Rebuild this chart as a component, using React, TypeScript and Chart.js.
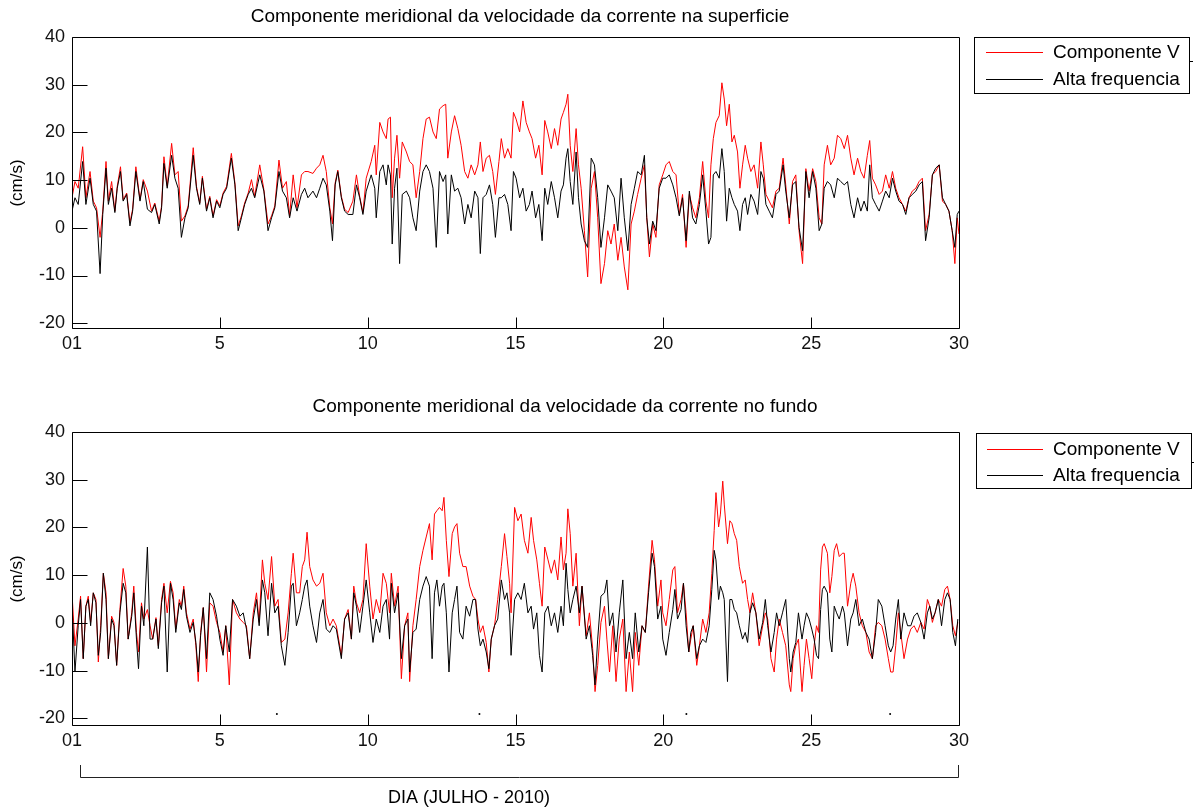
import React, { useEffect, useRef } from "react";
import { Chart, registerables } from "chart.js";

Chart.register(...registerables);

const FONT = '"Liberation Sans", Arial, Helvetica, sans-serif';

// ---------- x / y axes ----------
const xTicks = [0, 5, 10, 15, 20, 25, 30];
const xTickLabels = ["01", "5", "10", "15", "20", "25", "30"];
const yTicks = [-20, -10, 0, 10, 20, 30, 40];
const yAxisLabel = "(cm/s)";
const xAxisLabel = "DIA (JULHO - 2010)";
const legendLabels = ["Componente V", "Alta frequencia"];
const topTitle = "Componente meridional da velocidade da corrente na superficie";
const bottomTitle = "Componente meridional da velocidade da corrente no fundo";

// ---------- top panel (surface) ----------
const topDays = [
  0.00, 0.10, 0.21, 0.36, 0.47, 0.61, 0.72, 0.83, 0.95, 1.04,
  1.15, 1.23, 1.34, 1.45, 1.53, 1.64, 1.73, 1.85, 1.96, 2.05,
  2.16, 2.30, 2.41, 2.55, 2.69, 2.80, 2.95, 3.03, 3.11, 3.22,
  3.37, 3.48, 3.59, 3.70, 3.82, 3.93, 4.10, 4.21, 4.32, 4.41,
  4.55, 4.66, 4.77, 4.89, 5.00, 5.11, 5.23, 5.39, 5.51, 5.62,
  5.73, 5.84, 5.96, 6.07, 6.18, 6.35, 6.49, 6.63, 6.75, 6.86,
  7.00, 7.12, 7.25, 7.36, 7.48, 7.61, 7.76, 7.87, 7.98, 8.15,
  8.27, 8.38, 8.49, 8.60, 8.72, 8.81, 8.90, 8.99, 9.11, 9.22,
  9.34, 9.50, 9.62, 9.73, 9.84, 9.95,
  10.12, 10.24, 10.29, 10.41, 10.52, 10.63, 10.69, 10.77, 10.83, 10.91,
  10.99, 11.08, 11.17, 11.31, 11.42, 11.53, 11.64, 11.76, 11.87, 11.98,
  12.09, 12.21, 12.32, 12.43, 12.55, 12.64, 12.71, 12.83, 12.94, 13.05,
  13.16, 13.28, 13.39, 13.50, 13.62, 13.73, 13.81, 13.90, 14.01, 14.12,
  14.23, 14.32, 14.44, 14.52, 14.63, 14.74, 14.85, 14.93, 15.02, 15.14,
  15.25, 15.36, 15.47, 15.56, 15.68, 15.79, 15.90, 15.99, 16.09, 16.21,
  16.32, 16.43, 16.54, 16.62, 16.71, 16.77, 16.85, 16.94, 17.05, 17.13,
  17.22, 17.33, 17.44, 17.56, 17.67, 17.78, 17.89, 18.01, 18.12, 18.23,
  18.34, 18.46, 18.57, 18.68, 18.80, 18.91, 19.02, 19.13, 19.25, 19.36,
  19.44, 19.53, 19.64, 19.75, 19.86, 19.98,
  20.09, 20.20, 20.32, 20.43, 20.54, 20.65, 20.77, 20.88, 20.99, 21.10,
  21.22, 21.33, 21.44, 21.53, 21.61, 21.69, 21.78, 21.89, 21.98, 22.06,
  22.14, 22.23, 22.32, 22.40, 22.51, 22.59, 22.68, 22.77, 22.85, 22.96,
  23.07, 23.19, 23.30, 23.38, 23.47, 23.58, 23.69, 23.81, 23.92, 24.05,
  24.14, 24.26, 24.37, 24.48, 24.59, 24.71, 24.82, 24.93, 25.05, 25.16,
  25.27, 25.36, 25.44, 25.55, 25.66, 25.78, 25.89, 26.00, 26.12, 26.23,
  26.34, 26.45, 26.57, 26.68, 26.79, 26.90, 26.98, 27.07, 27.18, 27.30,
  27.41, 27.52, 27.64, 27.75, 27.86, 27.97, 28.09, 28.20, 28.31, 28.42,
  28.54, 28.65, 28.76, 28.87, 28.99, 29.10, 29.21, 29.33, 29.44, 29.55,
  29.66, 29.77, 29.86, 29.94, 30.00,
];

const topV = [
  6.3, 9.7, 8.3, 17.0, 6.3, 11.8, 5.6, 4.2, -2.0, 3.5,
  13.9, 5.6, 9.7, 3.5, 8.7, 12.8, 5.9, 7.3, 1.1, 3.9,
  12.8, 5.9, 10.1, 7.7, 3.5, 5.2, 1.4, 4.6, 14.9, 8.7,
  17.7, 11.1, 11.8, 1.4, 2.5, 4.6, 16.8, 8.7, 5.2, 10.8,
  3.9, 6.6, 2.5, 5.9, 4.6, 7.3, 8.7, 15.6, 9.4, 0.4,
  2.5, 5.2, 7.3, 10.1, 6.6, 13.2, 8.0, 0.8, 2.5, 4.6,
  14.2, 8.3, 9.7, 2.5, 11.1, 4.2, 11.1, 11.8, 11.8, 11.4,
  12.5, 13.2, 15.2, 11.8, 4.2, 0.8, 9.4, 12.1, 6.6, 3.9,
  3.2, 5.6, 11.1, 6.6, 3.2, 10.4,
  13.9, 17.3, 11.1, 22.1, 20.1, 18.7, 22.8, 23.2, 6.3, 14.6,
  19.4, 10.4, 18.0, 15.9, 13.9, 13.2, 6.3, 11.8, 18.7, 22.8,
  23.2, 20.1, 18.7, 24.9, 25.6, 25.9, 14.6, 20.1, 23.5, 20.8,
  17.3, 11.8, 10.4, 13.2, 11.1, 13.2, 18.0, 11.8, 14.6, 15.2,
  11.8, 7.0, 13.9, 18.7, 14.6, 16.6, 14.6, 24.2, 22.8, 20.1,
  26.6, 22.1, 20.1, 18.7, 14.6, 17.3, 11.1, 22.5, 20.1, 16.6,
  20.8, 17.3, 22.8, 24.2, 25.9, 28.0, 17.3, 11.8, 20.8, 13.2,
  8.3, -0.6, -10.3, 8.3, 11.8, 2.1, -11.7, -7.5, -0.6, -3.4,
  0.8, -6.8, -2.0, -8.2, -13.0, 0.8, 3.5, 7.0, 10.4, 13.2,
  2.1, -6.1, 0.8, -2.0, 9.0, 11.1,
  13.2, 13.9, 11.8, 11.1, 2.8, 7.0, -4.1, 7.0, 4.2, 2.1,
  6.3, 13.9, 5.6, 2.1, 13.2, 18.7, 22.1, 23.5, 30.4, 27.0,
  21.4, 25.9, 18.0, 19.4, 15.9, 8.3, 13.2, 17.3, 14.6, 11.8,
  13.2, 8.3, 18.0, 13.2, 7.0, 5.6, 4.2, 7.7, 8.3, 14.6,
  9.0, 0.8, 9.7, 11.1, -0.6, -7.5, 12.4, 7.7, 12.4, 9.7,
  2.1, 0.8, 13.2, 17.3, 13.2, 14.6, 19.4, 18.7, 16.6, 19.4,
  14.6, 11.1, 14.6, 11.8, 10.4, 15.2, 18.3, 10.4, 9.0, 7.0,
  7.7, 11.1, 8.3, 11.8, 8.3, 6.3, 4.9, 3.5, 6.3, 7.7,
  8.3, 9.7, 10.4, -0.6, 2.8, 11.1, 11.8, 13.2, 5.6, 4.9,
  3.5, -0.6, -7.5, 2.1, -1.3,
];

const topHF = [
  3.5, 6.3, 4.9, 13.9, 4.9, 10.4, 4.9, 3.5, -9.6, 2.8,
  12.5, 4.9, 8.3, 3.2, 8.3, 11.8, 5.6, 7.0, 0.4, 3.5,
  11.8, 5.6, 9.7, 3.9, 3.2, 4.9, 0.8, 4.2, 13.5, 8.3,
  15.2, 10.4, 8.3, -2.0, 2.1, 4.2, 15.2, 8.3, 4.9, 10.4,
  3.5, 6.3, 2.1, 5.6, 4.2, 7.0, 8.3, 14.6, 9.0, -0.6,
  2.1, 4.9, 7.0, 8.3, 6.3, 11.1, 7.7, -0.6, 2.1, 4.2,
  11.8, 7.7, 6.3, 2.1, 6.3, 3.5, 7.0, 8.3, 6.3, 7.7,
  6.3, 8.3, 10.4, 9.0, 3.5, -2.7, 9.0, 11.8, 6.3, 3.5,
  2.8, 2.8, 9.0, 6.3, 2.8, 7.7,
  11.1, 8.3, 2.1, 11.8, 13.2, 9.0, 13.2, 11.1, -3.4, 8.3,
  12.5, -7.5, 7.0, 7.7, 6.3, 2.1, -0.6, 7.7, 11.8, 13.2,
  11.8, 8.3, -4.1, 11.8, 9.7, 11.1, -1.3, 11.1, 7.7, 8.3,
  6.3, 0.8, 4.9, 2.1, 7.7, 6.3, -5.4, 6.3, 7.0, 9.0,
  4.9, -2.0, 6.3, 6.3, 7.0, 4.9, -0.6, 11.8, 10.4, 6.3,
  8.3, 3.5, 4.9, 7.7, 2.1, 4.9, -2.7, 8.3, 4.9, 9.7,
  6.3, 2.1, 7.7, 9.0, 14.6, 16.6, 9.7, 4.9, 15.9, 6.3,
  0.8, -2.7, -4.1, 14.6, 13.2, 6.3, -4.1, 2.1, 9.0, 7.7,
  6.3, -0.6, 10.4, 2.1, -4.8, 4.9, 8.3, 11.8, 11.1, 15.2,
  2.1, -3.4, 1.4, -0.6, 8.3, 10.4,
  10.4, 11.1, 9.0, 6.3, 2.5, 6.3, -2.7, 7.7, 2.1, 0.8,
  4.9, 11.1, 3.5, -3.4, -2.0, 11.1, 11.8, 10.4, 16.6, 11.8,
  1.4, 8.3, 6.3, 4.9, 3.5, -0.6, 4.9, 6.3, 2.8, 7.0,
  5.6, 2.8, 11.8, 10.4, 4.9, 3.5, 2.1, 7.0, 7.7, 13.2,
  7.7, 2.1, 9.0, 9.7, 0.1, -4.8, 11.8, 6.3, 11.8, 8.3,
  -0.6, 0.8, 8.3, 9.7, 9.0, 6.3, 10.4, 9.7, 9.0, 9.7,
  4.9, 2.1, 6.3, 3.5, 5.6, 3.5, 13.2, 6.3, 4.9, 3.5,
  5.6, 7.7, 6.3, 10.4, 7.7, 5.6, 4.9, 2.8, 6.3, 7.0,
  7.7, 9.0, 9.7, -2.7, 2.1, 11.1, 12.5, 13.2, 6.3, 4.9,
  3.5, -0.6, -4.1, 2.8, 3.5,
];

// ---------- bottom panel (bottom layer) ----------
const botDays = [
  0.00, 0.10, 0.21, 0.29, 0.38, 0.47, 0.55, 0.63, 0.72, 0.81,
  0.89, 0.97, 1.06, 1.15, 1.23, 1.34, 1.42, 1.51, 1.62, 1.73,
  1.82, 1.90, 2.02, 2.09, 2.18, 2.25, 2.35, 2.43, 2.55, 2.64,
  2.73, 2.84, 2.92, 3.03, 3.11, 3.22, 3.33, 3.42, 3.51, 3.63,
  3.70, 3.78, 3.87, 3.99, 4.10, 4.19, 4.27, 4.35, 4.44, 4.55,
  4.66, 4.77, 4.89, 5.00, 5.11, 5.20, 5.32, 5.43, 5.56, 5.68,
  5.79, 5.90, 6.01, 6.13, 6.24, 6.33, 6.44, 6.52, 6.63, 6.75,
  6.86, 6.97, 7.08, 7.20, 7.31, 7.42, 7.48, 7.59, 7.70, 7.79,
  7.87, 7.95, 8.04, 8.15, 8.27, 8.38, 8.49, 8.60, 8.72, 8.83,
  8.94, 9.11, 9.22, 9.34, 9.45, 9.53, 9.62, 9.73, 9.84, 9.95,
  10.07, 10.18, 10.29, 10.41, 10.52, 10.63, 10.74, 10.80, 10.91, 11.03,
  11.14, 11.25, 11.36, 11.42, 11.53, 11.64, 11.76, 11.87, 11.98, 12.09,
  12.18, 12.26, 12.34, 12.43, 12.52, 12.58, 12.66, 12.75, 12.86, 12.94,
  13.02, 13.11, 13.22, 13.33, 13.45, 13.56, 13.65, 13.73, 13.81, 13.90,
  14.01, 14.10, 14.18, 14.29, 14.40, 14.52, 14.63, 14.71, 14.80, 14.85,
  14.97, 15.08, 15.19, 15.30, 15.42, 15.53, 15.61, 15.72, 15.81, 15.90,
  15.99, 16.10, 16.21, 16.32, 16.43, 16.54, 16.62, 16.71, 16.77, 16.85,
  16.94, 17.05, 17.16, 17.25, 17.39, 17.50, 17.61, 17.69, 17.78, 17.89,
  18.01, 18.09, 18.18, 18.29, 18.40, 18.51, 18.63, 18.74, 18.85, 18.96,
  19.05, 19.17, 19.28, 19.39, 19.50, 19.62, 19.70, 19.81, 19.92,
  19.98, 20.09, 20.20, 20.32, 20.39, 20.48, 20.60, 20.68, 20.77, 20.86,
  20.93, 21.01, 21.13, 21.22, 21.33, 21.44, 21.55, 21.64, 21.72, 21.78,
  21.87, 21.93, 22.01, 22.06, 22.17, 22.25, 22.32, 22.40, 22.48, 22.57,
  22.68, 22.77, 22.85, 22.93, 23.02, 23.13, 23.24, 23.36, 23.45, 23.53,
  23.64, 23.75, 23.83, 23.92, 24.03, 24.14, 24.26, 24.31, 24.39, 24.48,
  24.57, 24.69, 24.76, 24.84, 24.93, 25.02, 25.10, 25.18, 25.25, 25.32,
  25.38, 25.44, 25.55, 25.63, 25.70, 25.78, 25.86, 25.95, 26.06, 26.12,
  26.23, 26.34, 26.42, 26.51, 26.62, 26.73, 26.85, 26.96, 27.07, 27.18,
  27.27, 27.39, 27.50, 27.61, 27.69, 27.77, 27.86, 27.95, 28.03, 28.14,
  28.26, 28.37, 28.48, 28.59, 28.71, 28.82, 28.93, 29.01, 29.10, 29.19,
  29.30, 29.41, 29.52, 29.61, 29.70, 29.79, 29.88, 29.96,
];

const botV = [
  6.3, -4.8, 0.8, 5.6, -7.5, 3.5, 5.6, 0.1, 6.3, 4.9,
  -8.2, -0.6, 10.4, 6.3, -7.5, 1.4, 0.1, -8.9, 2.8, 11.4,
  7.7, -3.4, 2.1, 7.7, -2.0, -6.1, 4.2, 0.8, 2.8, -0.6,
  -3.4, 1.1, -4.8, 4.9, 8.3, 2.1, 8.7, 6.3, -1.3, 4.9,
  3.5, 7.7, 2.1, -1.3, 0.8, -4.8, -12.3, -2.0, 3.2, -10.3,
  4.2, 3.5, 0.1, -2.0, -6.1, -0.6, -13.0, 4.9, 2.1, 0.8,
  0.1, -0.6, -7.5, 2.1, 6.3, 0.1, 13.2, 8.3, 4.9, 13.9,
  3.5, 4.9, -4.1, -3.4, 2.1, 10.4, 14.6, 6.3, 6.3, 11.8,
  13.2, 19.0, 11.8, 9.0, 7.7, 8.3, 10.4, 2.1, -0.6, 0.8,
  -0.6, -6.8, 0.8, 2.8, -3.4, 7.7, 4.2, 2.1, 4.9, 16.6,
  7.7, 0.8, 4.9, 2.1, 10.4, 8.3, 2.1, 10.4, 3.5, 7.7,
  -11.7, -0.6, 2.1, -12.3, -0.6, 4.9, 11.8, 15.2, 18.0, 20.8,
  13.2, 22.8, 23.5, 24.2, 23.5, 26.3, 17.3, 9.7, 18.7, 20.1,
  20.8, 14.6, 11.8, 11.8, 7.7, 5.6, 4.9, 0.8, -2.0, -0.6,
  -4.1, -10.3, -3.4, -0.6, 4.9, 11.8, 18.7, 13.9, 8.3, 2.1,
  24.2, 21.4, 22.8, 17.3, 14.6, 22.1, 17.3, 13.2, 8.3, 3.5,
  15.9, 13.2, 10.4, 13.2, 9.0, 18.0, 11.1, 14.6, 23.9, 18.7,
  7.7, 14.6, -0.6, 7.7, -2.7, 2.1, -5.4, -14.4, -8.9, 0.1,
  3.5, -3.4, -10.3, -0.6, -12.3, -3.4, 0.8, -14.4, -6.1, -14.4,
  -2.0, -8.9, -0.6, -2.0, 7.7, 17.3, 13.2, 3.5, 9.0,
  2.1, -0.6, 4.9, 11.1, 11.8, 2.1, 4.9, 8.3, 2.1, -6.1,
  -3.4, -0.6, -8.9, -4.8, 0.8, -2.0, 2.1, 10.4, 19.4, 27.3,
  20.1, 22.8, 29.7, 24.9, 16.6, 21.4, 20.8, 18.7, 17.3, 11.8,
  8.3, 9.0, 4.9, 2.1, 6.3, 2.1, -4.8, -0.6, 2.1, 0.8,
  -7.5, -10.3, -3.4, 0.8, -2.0, -4.8, -13.0, -14.4, -7.5, -4.8,
  -3.4, -14.4, -8.9, -3.4, -7.5, -11.7, -4.8, -0.6, -2.0, 11.1,
  15.9, 16.6, 14.6, 6.3, 9.7, 15.2, 16.6, 13.9, 14.6, 14.6,
  3.5, 8.3, 10.4, 7.7, 2.1, -0.6, -2.0, -6.1, -7.5, -0.6,
  0.1, -0.6, -3.4, -7.5, -10.3, -10.3, -4.8, 2.1, -2.0, -7.5,
  -3.4, -1.3, -0.6, -2.0, 0.1, -1.3, 4.9, 3.5, 0.1, 2.1,
  4.9, 3.5, 7.0, 7.7, 4.9, -0.6, -2.7, 0.1,
];

const botHF = [
  4.2, -10.3, -0.6, 4.9, -7.5, 3.5, 4.9, -0.6, 6.3, 4.2,
  -6.8, -2.0, 10.4, 4.9, -7.5, 0.8, -0.6, -8.9, 2.1, 8.3,
  6.3, -3.4, 1.4, 6.3, -3.4, -9.6, 3.5, -0.6, 15.9, -3.4,
  -3.4, 0.8, -5.4, 4.2, 7.7, -10.3, 8.3, 4.9, -2.0, 4.2,
  2.8, 7.0, 1.4, -2.0, 0.1, -4.1, -10.3, -2.7, 3.2, -7.5,
  6.3, 4.9, 1.4, -3.4, -6.8, -0.6, -6.1, 4.9, 3.5, 1.4,
  2.1, -1.3, -7.5, 0.8, 4.9, -0.6, 9.0, 6.3, -2.7, 8.3,
  2.1, 3.5, -4.8, -8.9, -2.0, 7.7, 8.3, -0.6, 2.1, 4.9,
  7.7, 9.0, 3.5, -0.6, -4.1, 2.1, 4.9, -1.3, -2.0, -0.6,
  -1.3, -7.5, 0.8, 2.1, -3.4, 6.3, 3.5, -2.0, 3.5, 9.0,
  2.1, -4.1, 0.8, -2.0, 3.5, 4.9, -3.4, 8.3, 2.1, 6.3,
  -7.5, -0.6, 0.8, -10.3, -2.0, -1.3, 4.9, 7.7, 9.7, 7.7,
  -7.5, 6.3, 9.0, 3.5, 7.7, 8.3, 2.1, -10.3, 2.1, 4.9,
  7.7, -2.0, -3.4, 3.5, 1.4, 4.9, 4.9, -1.3, -4.8, -3.4,
  -6.1, -9.6, -3.4, -0.6, 0.8, 9.0, 4.9, 6.3, 2.1, -6.8,
  4.9, 6.3, 4.9, 8.3, 2.1, 3.5, -1.3, 2.1, -6.8, -10.3,
  2.1, 3.5, -0.6, 2.1, -2.0, 3.5, -0.6, 12.5, 7.0, 2.1,
  4.9, 7.7, 2.1, 7.7, -3.4, -0.6, -6.8, -13.0, -3.4, 5.6,
  6.3, 9.0, -0.6, 2.1, -6.1, 2.1, 9.0, -7.5, -2.0, -7.5,
  2.1, -6.1, -0.6, -2.0, 6.3, 14.6, 11.8, 0.8, 3.5,
  -3.4, -6.8, -2.0, 2.8, 7.0, 0.8, 2.8, 8.3, -0.6, -6.1,
  -2.0, -0.6, -7.5, -4.8, -3.4, -4.1, -0.6, 7.0, 15.2, 13.2,
  4.9, 7.7, 6.3, 4.9, -12.3, 4.9, 4.9, 2.8, 2.1, -0.6,
  -3.4, -2.0, -4.1, 2.1, 4.2, 2.1, -3.4, 0.1, 4.9, -0.6,
  -6.1, -2.0, 2.1, -0.6, 2.1, 4.9, -7.5, -10.3, -6.1, -4.1,
  2.1, -3.4, -0.6, 2.1, 0.8, -1.3, -3.4, -6.8, -7.5, 2.8,
  7.0, 7.7, 6.3, -3.4, -6.1, 3.5, 2.1, 0.8, 3.5, 2.1,
  -4.8, 0.8, 2.1, 4.9, -0.6, 0.8, -2.0, -3.4, -7.5, -2.0,
  4.9, 3.5, -0.6, -4.8, -6.1, -4.8, 0.8, 4.9, -3.4, 2.1,
  -0.6, -0.6, 1.4, 2.1, 0.1, -3.4, 2.1, 3.5, 0.8, 2.1,
  4.9, -0.6, 4.9, 6.3, 4.9, -2.0, -4.8, 0.8,
];

// isolated single-sample dots near the bottom of the lower panel
const botDotDays = [6.93, 13.78, 20.78, 27.67];
const botDotValues = [-19.1, -19.1, -19.1, -19.1];

// ---------- drawing helpers ----------
const decorPlugin = {
  id: "decor",
  afterDraw(chart: any, _args: any, o: any) {
    const ctx: CanvasRenderingContext2D = chart.ctx;
    const a = chart.chartArea;
    const xs = chart.scales.x;
    const ys = chart.scales.y;
    ctx.save();
    ctx.strokeStyle = "#000";
    ctx.lineWidth = 1;
    const L = Math.round(a.left) + 0.5;
    const R = Math.round(a.right) + 0.5;
    const T = Math.round(a.top) + 0.5;
    const B = Math.round(a.bottom) + 0.5;
    ctx.beginPath();
    ctx.rect(L, T, R - L, B - T);
    for (const v of yTicks) {
      const y = Math.round(ys.getPixelForValue(v)) + 0.5;
      ctx.moveTo(L, y);
      ctx.lineTo(L + 15, y);
    }
    for (const v of xTicks) {
      const x = Math.round(xs.getPixelForValue(v)) + 0.5;
      ctx.moveTo(x, B);
      ctx.lineTo(x, B - 11);
    }
    ctx.stroke();

    // title
    ctx.fillStyle = "#000";
    ctx.textAlign = "center";
    ctx.textBaseline = "middle";
    ctx.font = `19px ${FONT}`;
    ctx.fillText(o.title, o.titleX, o.titleY);

    // y axis label
    ctx.save();
    ctx.translate(17, (T + B) / 2);
    ctx.rotate(-Math.PI / 2);
    ctx.font = `17px ${FONT}`;
    ctx.fillText(yAxisLabel, 0, 0);
    ctx.restore();

    // legend
    const lg = o.legend;
    ctx.strokeStyle = "#000";
    ctx.strokeRect(lg.x + 0.5, lg.y + 0.5, lg.w, lg.h);
    // small stray mark just right of the legend box
    ctx.beginPath();
    ctx.moveTo(lg.x + lg.w + 1, lg.markY + 0.5);
    ctx.lineTo(lg.x + lg.w + 4, lg.markY + 0.5);
    ctx.stroke();
    const colors = ["#ff0000", "#000000"];
    ctx.font = `19px ${FONT}`;
    ctx.textAlign = "left";
    legendLabels.forEach((lab, i) => {
      const yy = lg.rows[i];
      ctx.strokeStyle = colors[i];
      ctx.beginPath();
      ctx.moveTo(lg.lineX0, yy + 0.5);
      ctx.lineTo(lg.lineX1, yy + 0.5);
      ctx.stroke();
      ctx.fillStyle = "#000";
      ctx.fillText(lab, lg.textX, yy + 1);
    });

    // bracket + x label (bottom panel only)
    if (o.bracket) {
      const br = o.bracket;
      ctx.strokeStyle = "#222";
      ctx.beginPath();
      ctx.moveTo(br.x0 + 0.5, br.yTop);
      ctx.lineTo(br.x0 + 0.5, br.y + 0.5);
      ctx.lineTo(br.x1 + 0.5, br.y + 0.5);
      ctx.lineTo(br.x1 + 0.5, br.yTop);
      ctx.stroke();
      ctx.fillStyle = "#000";
      ctx.textAlign = "center";
      ctx.font = `18px ${FONT}`;
      ctx.fillText(xAxisLabel, br.labelX, br.labelY);
    }
    ctx.restore();
  },
};

function buildConfig(days: number[], v: number[], hf: number[], p: any): any {
  const red = days.map((d, i) => ({ x: d, y: v[i] }));
  const black = days.map((d, i) => ({ x: d, y: hf[i] }));
  const datasets: any[] = [
    { label: legendLabels[0], data: red, borderColor: "#ff0000", borderWidth: 1, pointRadius: 0, tension: 0, order: 1 },
    { label: legendLabels[1], data: black, borderColor: "#000000", borderWidth: 1, pointRadius: 0, tension: 0, order: 0 },
  ];
  if (p.dotDays) {
    datasets.push({
      label: "dots",
      data: p.dotDays.map((d: number, i: number) => ({ x: d, y: p.dotValues[i] })),
      showLine: false,
      pointRadius: 1,
      pointBorderWidth: 0,
      pointBackgroundColor: "#000",
      borderColor: "#000",
      order: 0,
    });
  }
  return {
    type: "line",
    data: { datasets },
    options: {
      responsive: false,
      animation: false,
      events: [],
      layout: { padding: { left: 0, right: 235, top: 37, bottom: p.padBottom } },
      plugins: {
        legend: { display: false },
        tooltip: { enabled: false },
        title: { display: false },
        decor: p.decor,
      },
      scales: {
        x: {
          type: "linear",
          min: 0,
          max: 30,
          grid: { display: false, drawTicks: false },
          border: { display: false },
          afterFit: (s: any) => { s.height = 30; },
          afterBuildTicks: (s: any) => { s.ticks = xTicks.map((t) => ({ value: t })); },
          ticks: {
            autoSkip: false,
            maxRotation: 0,
            padding: 5,
            color: "#111",
            font: { family: FONT, size: 18 },
            callback: (val: number) => xTickLabels[xTicks.indexOf(val)] ?? "",
          },
        },
        y: {
          type: "linear",
          min: p.yMin,
          max: 40,
          grid: { display: false, drawTicks: false },
          border: { display: false },
          afterFit: (s: any) => { s.width = 72; },
          afterBuildTicks: (s: any) => { s.ticks = yTicks.map((t) => ({ value: t })); },
          ticks: {
            autoSkip: false,
            padding: 7,
            color: "#111",
            font: { family: FONT, size: 18 },
          },
        },
      },
    },
    plugins: [decorPlugin],
  };
}

function Panel(props: { top: number; height: number; days: number[]; v: number[]; hf: number[]; p: any }) {
  const ref = useRef<HTMLCanvasElement | null>(null);
  useEffect(() => {
    if (!ref.current) return;
    const chart = new Chart(ref.current, buildConfig(props.days, props.v, props.hf, props.p));
    return () => chart.destroy();
  }, []);
  return (
    <canvas
      ref={ref}
      width={1194}
      height={props.height}
      style={{ position: "absolute", left: 0, top: props.top, width: 1194, height: props.height }}
    />
  );
}

export default function App() {
  const topP = {
    padBottom: 395 - 328 - 30,
    yMin: -21,
    decor: {
      title: topTitle,
      titleX: 520,
      titleY: 17,
      legend: { x: 974, y: 37, w: 215, h: 56, rows: [52, 79], lineX0: 986, lineX1: 1043, textX: 1053, markY: 61 },
    },
  };
  const botP = {
    padBottom: 412 - 330 - 30,
    yMin: -21.4,
    dotDays: botDotDays,
    dotValues: botDotValues,
    decor: {
      title: bottomTitle,
      titleX: 565,
      titleY: 12,
      legend: { x: 976, y: 38, w: 215, h: 55, rows: [54, 80], lineX0: 987, lineX1: 1043, textX: 1053, markY: 67 },
      bracket: { x0: 80, x1: 958, y: 382, yTop: 370, labelX: 469, labelY: 403 },
    },
  };
  return (
    <div style={{ position: "fixed", left: 0, top: 0, width: 1194, height: 807, background: "#fff", overflow: "hidden" }}>
      <Panel top={0} height={395} days={topDays} v={topV} hf={topHF} p={topP} />
      <Panel top={395} height={412} days={botDays} v={botV} hf={botHF} p={botP} />
    </div>
  );
}
